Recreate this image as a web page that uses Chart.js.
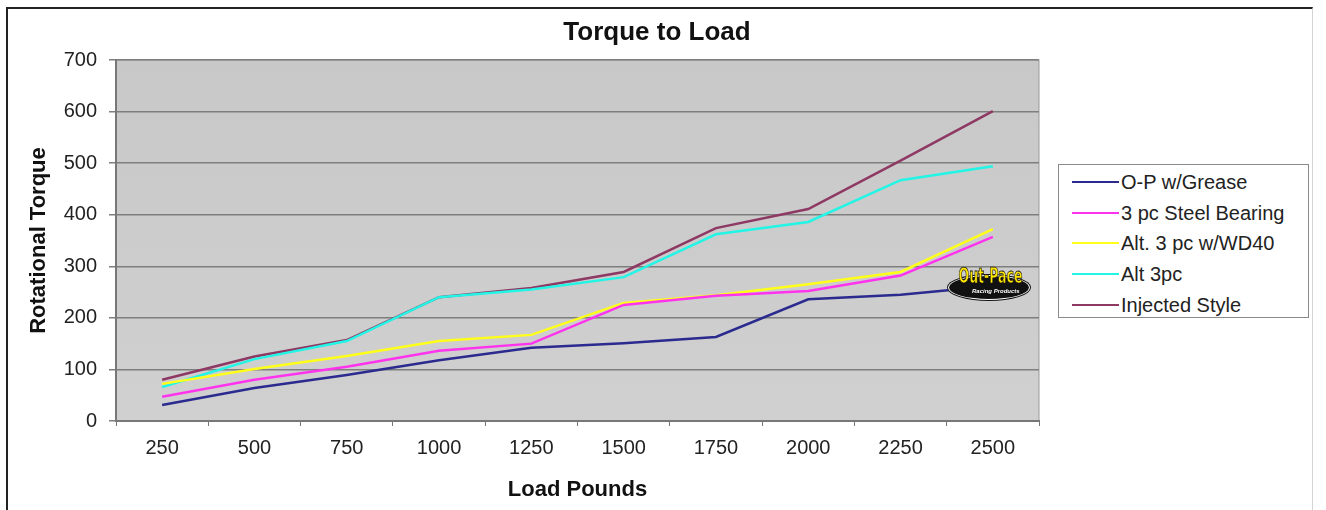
<!DOCTYPE html>
<html>
<head>
<meta charset="utf-8">
<title>Torque to Load</title>
<script src="https://cdn.jsdelivr.net/npm/chart.js@4.4.1/dist/chart.umd.min.js"></script>
<style>
  html, body { margin: 0; padding: 0; background: #fff; }
  #page { position: relative; width: 1326px; height: 510px; overflow: hidden; font-family: "Liberation Sans", Arial, sans-serif; }
  #frame { position: absolute; left: 6px; top: 7px; width: 1307px; height: 520px; border-left: 2px solid #222; border-top: 2px solid #222; border-right: 1px solid #d4d4d4; box-sizing: border-box; }
  #chart { position: absolute; left: 0; top: 0; }
  #legend { position: absolute; left: 1058px; top: 164px; width: 251px; height: 154px; border: 1px solid #8a8a8a; box-sizing: border-box; background: #fff; }
  .item { position: absolute; left: 13px; height: 22px; font-size: 20px; color: #222; white-space: nowrap; }
  .item i { position: absolute; left: 0; top: 10px; width: 47px; height: 2px; }
  .item span { position: absolute; left: 49px; top: 0; line-height: 22px; }
  #logo { position: absolute; left: 948px; top: 262px; width: 84px; height: 38px; }
  #logo .oval { position: absolute; left: 0; top: 13px; width: 80px; height: 23px; border-radius: 50%; background: #111; border: 1px solid #fff; box-shadow: 0 0 0 1px #111; }
  #logo .main { position: absolute; left: 4px; top: 1px; width: 72px; text-align: center; white-space: nowrap; font: bold 17px "Liberation Sans Narrow", "DejaVu Sans Condensed", sans-serif; color: #ffe600; -webkit-text-stroke: 0.6px #111; transform: scale(0.82, 1.25); transform-origin: center top; }
  #logo .sub { position: absolute; left: 24px; top: 26px; white-space: nowrap; font: italic bold 6px "Liberation Sans", sans-serif; color: #fff; }
</style>
</head>
<body>
<div id="page">
  <div id="frame"></div>
  <canvas id="chart" width="1326" height="510"></canvas>
  <div id="legend"></div>
  <div id="logo"><div class="oval"></div><div class="main">Out-Pace</div><div class="sub">Racing Products</div></div>
</div>
<script>
  var loads = ["250", "500", "750", "1000", "1250", "1500", "1750", "2000", "2250", "2500"];
  var opGrease = [31, 64, 89, 118, 142, 151, 163, 236, 245, 262];
  var steelBearing = [47, 80, 105, 136, 150, 225, 243, 252, 282, 357];
  var altWd40 = [72, 101, 126, 155, 167, 229, 244, 265, 289, 372];
  var alt3pc = [66, 120, 155, 240, 255, 279, 362, 386, 467, 494];
  var injected = [80, 125, 157, 240, 258, 289, 374, 411, 505, 601];
  var torqueTicks = [0, 100, 200, 300, 400, 500, 600, 700];
  var chartTitle = "Torque to Load";

  var series = [
    { label: "O-P w/Grease", data: opGrease, color: "#2b2b8f" },
    { label: "3 pc Steel Bearing", data: steelBearing, color: "#ff33ee" },
    { label: "Alt. 3 pc w/WD40", data: altWd40, color: "#ffff1a" },
    { label: "Alt 3pc", data: alt3pc, color: "#22f5e5" },
    { label: "Injected Style", data: injected, color: "#8e3864" }
  ];

  var legend = document.getElementById("legend");
  series.forEach(function (s, i) {
    var row = document.createElement("div");
    row.className = "item";
    row.style.top = (6 + i * 30.7) + "px";
    row.innerHTML = '<i style="background:' + s.color + '"></i><span>' + s.label + "</span>";
    legend.appendChild(row);
  });

  var font = "'Liberation Sans', Arial, sans-serif";

  // grey plot area plus the chart title, centred on the whole frame like the original
  var plotBackground = {
    id: "plotBackground",
    beforeDraw: function (chart) {
      var a = chart.chartArea;
      var ctx = chart.ctx;
      var g = ctx.createLinearGradient(0, a.top, 0, a.bottom);
      g.addColorStop(0, "#c8c8c8");
      g.addColorStop(1, "#d0d0d0");
      ctx.save();
      ctx.fillStyle = g;
      ctx.fillRect(a.left, a.top, a.right - a.left, a.bottom - a.top);
      ctx.strokeStyle = "#9a9a9a";
      ctx.lineWidth = 1;
      ctx.strokeRect(a.left, a.top, a.right - a.left, a.bottom - a.top);
      ctx.fillStyle = "#111";
      ctx.font = "bold 26px " + font;
      ctx.textAlign = "center";
      ctx.textBaseline = "middle";
      ctx.fillText(chartTitle, 657, 33);
      ctx.restore();
    }
  };

  new Chart(document.getElementById("chart"), {
    type: "line",
    data: {
      labels: loads,
      datasets: series.map(function (s) {
        return {
          label: s.label,
          data: s.data,
          borderColor: s.color,
          backgroundColor: s.color,
          borderWidth: 2.5,
          pointRadius: 0,
          tension: 0,
          fill: false
        };
      })
    },
    options: {
      responsive: false,
      animation: false,
      events: [],
      layout: { padding: { left: 18, right: 287, top: 60, bottom: 0 } },
      plugins: {
        legend: { display: false },
        tooltip: { enabled: false },
        title: { display: false }
      },
      scales: {
        x: {
          offset: true,
          grid: { display: true, drawOnChartArea: false, offset: true, tickLength: 5, color: "#777" },
          border: { color: "#777", width: 2 },
          ticks: { color: "#222", font: { family: font, size: 20 }, padding: 10, maxRotation: 0 },
          title: { display: true, text: "Load Pounds", color: "#111", font: { family: font, size: 22, weight: "bold" }, padding: { top: 0, bottom: 7 } },
          afterFit: function (scale) { scale.height = 89; }
        },
        y: {
          min: 0,
          max: 700,
          afterBuildTicks: function (scale) {
            scale.ticks = torqueTicks.map(function (v) { return { value: v }; });
          },
          grid: { color: "#7e7e7e", lineWidth: 1.5, tickLength: 7 },
          border: { color: "#777", width: 2 },
          ticks: { color: "#222", font: { family: font, size: 20 }, padding: 12 },
          title: { display: true, text: "Rotational Torque", color: "#111", font: { family: font, size: 22, weight: "bold" }, padding: { top: 8, bottom: 0 } },
          afterFit: function (scale) { scale.width = 98; }
        }
      }
    },
    plugins: [plotBackground]
  });
</script>
</body>
</html>
